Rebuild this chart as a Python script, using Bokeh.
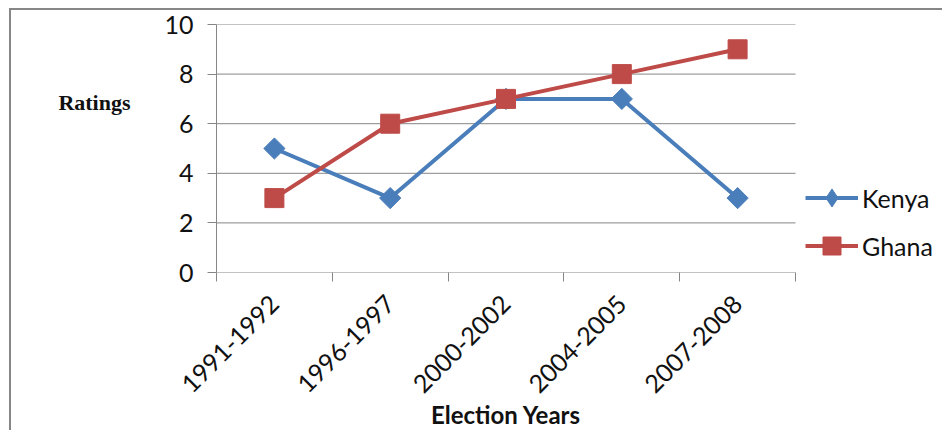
import math

from bokeh.embed import file_html
from bokeh.models import FixedTicker, Label, Legend, LegendItem, Range1d
from bokeh.plotting import figure
from bokeh.resources import INLINE

# Election periods and ratings per country
years = ["1991-1992", "1996-1997", "2000-2002", "2004-2005", "2007-2008"]
kenya = [5, 3, 7, 7, 3]
ghana = [3, 6, 7, 8, 9]
y_ticks = [0, 2, 4, 6, 8, 10]

KENYA_BLUE = "#4A7EBB"
GHANA_RED = "#BE4B48"
GREY = "#868686"
TEXT = "#111111"
FONT = "Lato"

# The frame runs to the right edge so the legend can sit beside the
# gridded area; the categories only fill the left part of it.
PLOT_W = 579    # width of the gridded area in px
FRAME_W = 728   # width of the whole frame in px
PLOT_H = 248    # height of the gridded area in px
n = len(years)
x_end = n * FRAME_W / PLOT_W
px_y = 10 / PLOT_H   # one pixel in y data units

# categories sit in the middle of unit-wide slots; ticks mark the slot edges
centers = [i + 0.5 for i in range(n)]
edges = list(range(n + 1))

p = figure(
    width=933, height=422,
    x_range=Range1d(0, x_end), y_range=Range1d(0, 10),
    output_backend="svg", toolbar_location=None,
    min_border_left=205, min_border_right=0,
    min_border_top=14, min_border_bottom=160,
)
p.styles = {
    "margin-left": "9px",
    "margin-top": "8px",
    "border-left": "2px solid #878787",
    "border-top": "2px solid #878787",
}
p.outline_line_color = None
p.background_fill_color = "white"
p.border_fill_color = "white"

# horizontal gridlines (the one at 0 doubles as the x axis line)
p.segment(x0=[0] * len(y_ticks), x1=[n] * len(y_ticks), y0=y_ticks, y1=y_ticks,
          line_color=GREY, line_width=1)
p.xgrid.visible = False
p.ygrid.visible = False

# x axis: labels at category centres, tick marks between categories
p.xaxis.ticker = FixedTicker(ticks=centers, minor_ticks=edges)
p.xaxis.major_label_overrides = {c: y for c, y in zip(centers, years)}
p.xaxis.axis_line_color = None
p.xaxis.major_tick_in = 0
p.xaxis.major_tick_out = 0
p.xaxis.minor_tick_in = 0
p.xaxis.minor_tick_out = 9
p.xaxis.minor_tick_line_color = GREY
p.xaxis.major_label_orientation = math.pi / 4
p.xaxis.major_label_text_font = FONT
p.xaxis.major_label_text_font_size = "25px"
p.xaxis.major_label_text_color = TEXT
p.xaxis.major_label_standoff = 18

# y axis
p.yaxis.ticker = FixedTicker(ticks=y_ticks)
p.yaxis.major_tick_in = 0
p.yaxis.major_tick_out = 9
p.yaxis.major_tick_line_color = GREY
p.yaxis.minor_tick_line_color = None
p.yaxis.axis_line_color = GREY
p.yaxis.major_label_text_font = FONT
p.yaxis.major_label_text_font_size = "25px"
p.yaxis.major_label_text_color = TEXT
p.yaxis.major_label_standoff = 14

# series
k_line = p.line(centers, kenya, line_color=KENYA_BLUE, line_width=4)
# upright diamonds used as the legend key; hidden under the rotated squares
k_key = p.scatter(centers, kenya, marker="diamond", size=14,
                  fill_color=KENYA_BLUE, line_color=KENYA_BLUE)
k_pts = p.scatter(centers, kenya, marker="square", angle=math.pi / 4, size=15,
                  fill_color=KENYA_BLUE, line_color=KENYA_BLUE)
g_line = p.line(centers, ghana, line_color=GHANA_RED, line_width=4)
g_pts = p.scatter(centers, ghana, marker="square", size=19,
                  fill_color=GHANA_RED, line_color=GHANA_RED)

legend = Legend(
    items=[
        LegendItem(label="Kenya", renderers=[k_line, k_key]),
        LegendItem(label="Ghana", renderers=[g_line, g_pts]),
    ],
    location=(589, 4),
    glyph_width=53, glyph_height=45, label_height=45, spacing=3,
    padding=0, margin=0, label_standoff=4,
    border_line_color=None, background_fill_alpha=0,
    label_text_font=FONT, label_text_font_size="25px", label_text_color=TEXT,
)
p.add_layout(legend)

# horizontal y-axis title on the left
p.add_layout(Label(
    x=-1.054, y=10 - 78 * px_y, text="Ratings",
    text_font="Liberation Serif", text_font_style="bold", text_font_size="22px",
    text_align="center", text_baseline="alphabetic", text_color=TEXT,
), "left")

# x-axis title centred under the categories
p.add_layout(Label(
    x=n / 2, y=-142 * px_y, text="Election Years",
    text_font=FONT, text_font_style="bold", text_font_size="24px",
    text_align="center", text_baseline="alphabetic", text_color=TEXT,
), "below")

open("out.html", "w").write(file_html(p, INLINE))
